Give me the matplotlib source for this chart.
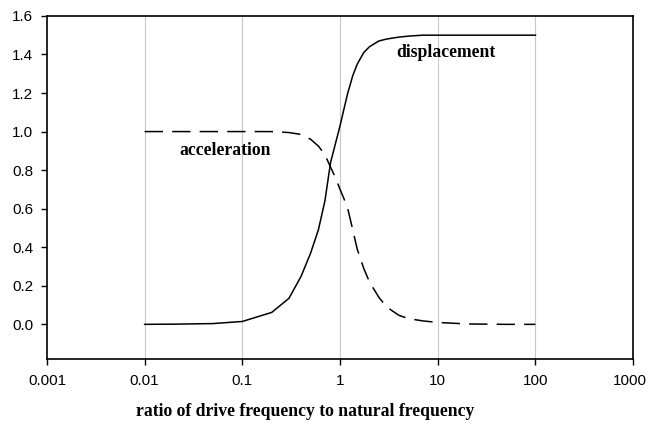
import matplotlib
matplotlib.use("Agg")
import matplotlib.pyplot as plt
import matplotlib.transforms as mtransforms
from matplotlib.ticker import FixedLocator, FixedFormatter, NullLocator

# frequency ratio (drive / natural)
ratio = [0.01, 0.02, 0.05, 0.1, 0.2, 0.3, 0.4, 0.5, 0.6, 0.7, 0.8, 0.9, 1.0,
         1.1, 1.2, 1.35, 1.5, 1.75, 2, 2.5, 3, 4, 5, 7, 10, 20, 50, 100]
displacement = [0.0, 0.001, 0.004, 0.015, 0.062, 0.135, 0.25, 0.37, 0.49, 0.64,
                0.84, 0.94, 1.03, 1.12, 1.2, 1.29, 1.35, 1.41, 1.44, 1.47,
                1.48, 1.49, 1.495, 1.5, 1.5, 1.5, 1.5, 1.5]
acceleration = [1.0, 1.0, 1.0, 1.0, 1.0, 0.995, 0.985, 0.96, 0.925, 0.88,
                0.815, 0.76, 0.70, 0.65, 0.60, 0.49, 0.39, 0.29, 0.22, 0.14,
                0.09, 0.047, 0.03, 0.018, 0.01, 0.002, 0.0, 0.0]

x_ticks = [0.001, 0.01, 0.1, 1, 10, 100, 1000]
x_labels = ["0.001", "0.01", "0.1", "1", "10", "100", "1000"]
y_ticks = [0.0, 0.2, 0.4, 0.6, 0.8, 1.0, 1.2, 1.4, 1.6]

fig = plt.figure(figsize=(6.48, 4.30), dpi=100)
ax = fig.add_axes([0.0725, 0.165, 0.9045, 0.798])

ax.plot(ratio, displacement, color="black", lw=1.1)
ax.plot(ratio, acceleration, color="black", lw=1.1, linestyle=(0, (12, 6)))

ax.set_xscale("log")
ax.set_xlim(0.001, 1000)
ax.set_ylim(-0.18, 1.6)
ax.xaxis.set_major_locator(FixedLocator(x_ticks))
ax.xaxis.set_major_formatter(FixedFormatter(x_labels))
ax.xaxis.set_minor_locator(NullLocator())
ax.set_yticks(y_ticks)
ax.set_yticklabels([f"{v:.1f}" for v in y_ticks])

for v in x_ticks[1:-1]:
    ax.axvline(v, color="#c8c8c8", lw=0.8, zorder=0)

ax.tick_params(axis="both", direction="out", length=4, width=1,
               labelsize=11, colors="black")
ax.tick_params(axis="x", pad=7)
ax.tick_params(axis="y", pad=6)
for lab in ax.get_xticklabels() + ax.get_yticklabels():
    lab.set_fontfamily("Liberation Sans")
for s in ax.spines.values():
    s.set_linewidth(1.2)
    s.set_color("black")

# keep the "1000" label inside the figure edge
last = ax.get_xticklabels()[-1]
last.set_transform(last.get_transform()
                   + mtransforms.ScaledTranslation(-3 / 100, 0, fig.dpi_scale_trans))

ax.text(0.066, 0.90, "acceleration", family="Liberation Serif", weight="bold",
        fontsize=12.7, ha="center", va="center")
ax.text(12.2, 1.41, "displacement", family="Liberation Serif", weight="bold",
        fontsize=12.7, ha="center", va="center")

fig.text(0.471, 0.043, "ratio of drive frequency to natural frequency",
         family="Liberation Serif", weight="bold", fontsize=12.7,
         ha="center", va="center")

fig.savefig("out.png", dpi=100)
